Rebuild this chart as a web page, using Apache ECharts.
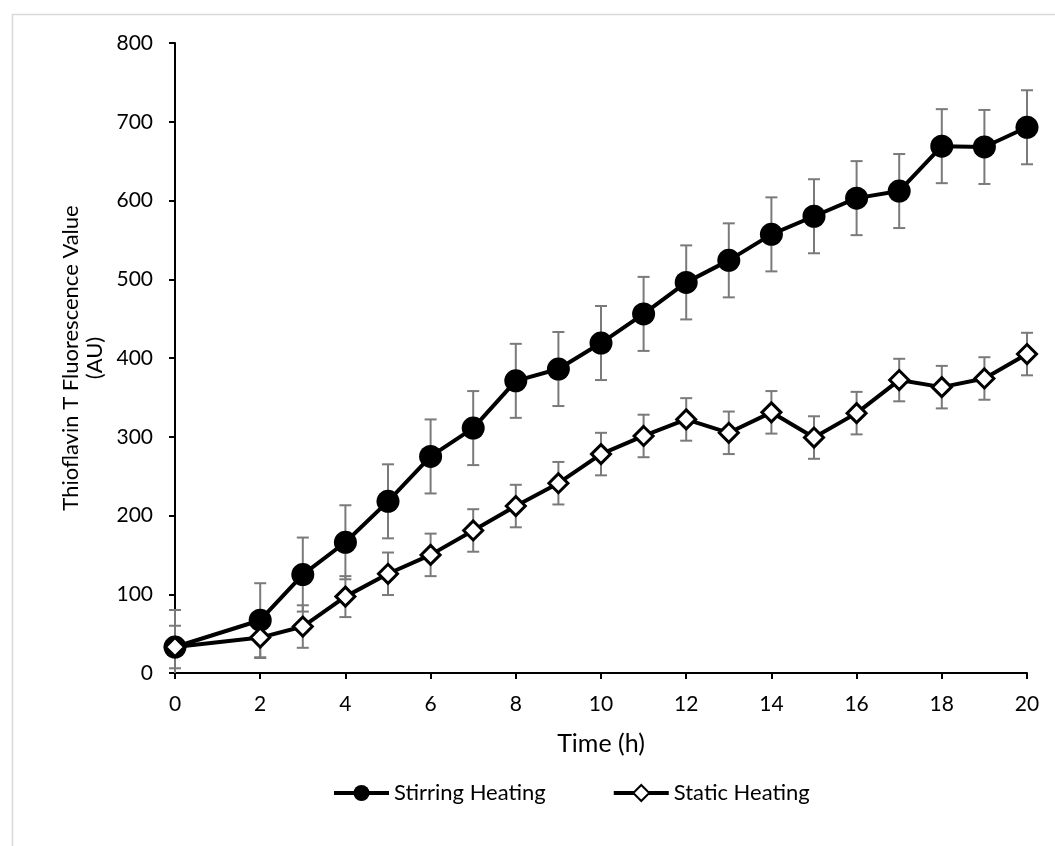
<!DOCTYPE html>
<html>
<head>
<meta charset="utf-8">
<script src="https://cdn.jsdelivr.net/npm/echarts@6/dist/echarts.min.js"></script>
<style>
  html, body { margin: 0; padding: 0; background: #fff; }
  #chart { width: 1055px; height: 846px; }
</style>
</head>
<body>
<div id="chart"></div>
<script>
// time points (h) - no sample at 1 h
var hours = [0, 2, 3, 4, 5, 6, 7, 8, 9, 10, 11, 12, 13, 14, 15, 16, 17, 18, 19, 20];
// Stirring Heating
var stirring = [33, 67, 125, 166, 218, 275, 311, 371, 386, 419, 456, 496, 524, 557, 580, 603, 612, 669, 668, 693];
var stirringErr = [47, 47, 47, 47, 47, 47, 47, 47, 47, 47, 47, 47, 47, 47, 47, 47, 47, 47, 47, 47];
// Static Heating
var statics = [33, 45, 59, 97, 126, 150, 181, 212, 241, 278, 301, 322, 305, 331, 299, 330, 372, 363, 374, 405];
var staticErr = [27, 26, 27, 26, 27, 27, 27, 27, 27, 27, 27, 27, 27, 27, 27, 27, 27, 27, 27, 27];
var yTicks = [0, 100, 200, 300, 400, 500, 600, 700, 800];

var font = 'Lato, "Open Sans", sans-serif';

// pair x with y
var toPoints = function(ys) {
	var out = [];
	for (var i = 0; i < hours.length; i++) {
		out.push([hours[i], ys[i]]);
	}
	return out;
};

// error bar rows: [x, low, high]
var toErrRows = function(ys, errs) {
	var out = [];
	for (var i = 0; i < hours.length; i++) {
		out.push([hours[i], ys[i] - errs[i], ys[i] + errs[i]]);
	}
	return out;
};

var errorBars = function(name, ys, errs) {
	return {
		name: name,
		type: 'custom',
		silent: true,
		z: 1,
		encode: { x: 0, y: [1, 2] },
		data: toErrRows(ys, errs),
		renderItem: function(params, api) {
			var low = api.value(1);
			var clipped = low < 0;
			// excel cuts the bar off at the axis
			if (clipped) low = 0;
			var top = api.coord([api.value(0), api.value(2)]);
			var bot = api.coord([api.value(0), low]);
			var w = 6;
			var st = { stroke: '#7a7a7a', lineWidth: 2 };
			var kids = [
				{ type: 'line', shape: { x1: top[0], y1: top[1], x2: bot[0], y2: bot[1] }, style: st },
				{ type: 'line', shape: { x1: top[0] - w, y1: top[1], x2: top[0] + w, y2: top[1] }, style: st }
			];
			if (!clipped) {
				kids.push({ type: 'line', shape: { x1: bot[0] - w, y1: bot[1], x2: bot[0] + w, y2: bot[1] }, style: st });
			}
			return { type: 'group', children: kids };
		}
	};
};

var myChart = echarts.init(document.getElementById('chart'));
var option = {
	backgroundColor: '#fff',
	animation: false,
	textStyle: { fontFamily: font, color: '#000' },
	graphic: [{
		type: 'rect',
		left: 10,
		top: 12,
		shape: { width: 1200, height: 1000 },
		style: { fill: 'none', stroke: '#d9d9d9', lineWidth: 1.5 },
		silent: true
	}],
	grid: { left: 175, right: 28, top: 43, bottom: 173 },
	legend: {
		data: ['Stirring Heating', 'Static Heating'],
		left: 327,
		top: 777,
		itemWidth: 55,
		itemHeight: 20,
		itemGap: 66,
		lineStyle: { width: 4, color: '#000' },
		textStyle: { fontFamily: font, fontSize: 22, color: '#000' }
	},
	xAxis: {
		type: 'value',
		min: 0,
		max: 20,
		interval: 2,
		name: 'Time (h)',
		nameLocation: 'middle',
		nameGap: 58,
		nameMoveOverlap: false,
		nameTextStyle: { fontFamily: font, fontSize: 25, color: '#000' },
		axisLine: { onZero: false, lineStyle: { color: '#000', width: 2 } },
		axisTick: { show: true, inside: false, length: 6, lineStyle: { color: '#000', width: 2 } },
		axisLabel: { fontFamily: font, fontSize: 21, color: '#000', margin: 21 },
		splitLine: { show: false }
	},
	yAxis: {
		type: 'value',
		min: yTicks[0],
		max: yTicks[yTicks.length - 1],
		interval: 100,
		name: 'Thioflavin T Fluorescence Value\n(AU)',
		nameLocation: 'middle',
		nameRotate: 90,
		nameGap: 68,
		nameMoveOverlap: false,
		nameTextStyle: { fontFamily: font, fontSize: 22, color: '#000', lineHeight: 24, align: 'center' },
		axisLine: { show: true, lineStyle: { color: '#000', width: 2 } },
		axisTick: { show: true, inside: false, length: 6, lineStyle: { color: '#000', width: 2 } },
		axisLabel: { fontFamily: font, fontSize: 21, color: '#000', margin: 22 },
		splitLine: { show: false }
	},
	series: [
		errorBars('err-stirring', stirring, stirringErr),
		errorBars('err-static', statics, staticErr),
		{
			name: 'Stirring Heating',
			type: 'line',
			z: 3,
			data: toPoints(stirring),
			symbol: 'circle',
			symbolSize: 23,
			lineStyle: { color: '#000', width: 4 },
			itemStyle: { color: '#000', borderColor: '#000', borderWidth: 0 }
		},
		{
			name: 'Static Heating',
			type: 'line',
			z: 4,
			data: toPoints(statics),
			symbol: 'diamond',
			symbolSize: 19,
			lineStyle: { color: '#000', width: 4 },
			itemStyle: { color: '#fff', borderColor: '#000', borderWidth: 3 }
		}
	]
};
myChart.setOption(option);
</script>
</body>
</html>
